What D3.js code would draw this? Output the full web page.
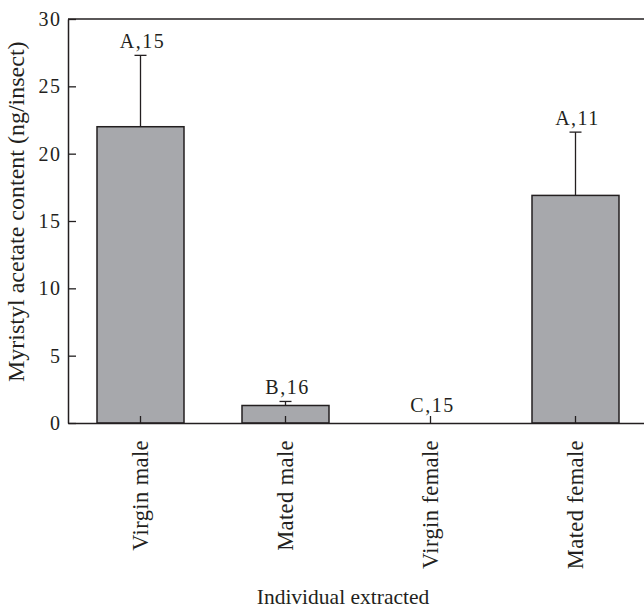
<!DOCTYPE html>
<html>
<head>
<meta charset="utf-8">
<script src="https://cdn.jsdelivr.net/npm/d3@7"></script>
<style>
	body { margin: 0; background: #fff; }
	text { font-family: "Liberation Serif", serif; fill: #231f20; }
</style>
</head>
<body>
<div id="chart"></div>
<script>
var groups = ['Virgin male', 'Mated male', 'Virgin female', 'Mated female'];
var means = [22.0, 1.3, 0, 16.9];
var errors = [5.3, 0.3, 0, 4.7];
var letters = ['A,15', 'B,16', 'C,15', 'A,11'];
var yTicks = [0, 5, 10, 15, 20, 25, 30];

var width = 644, height = 609;
var margin = {top: 19, left: 68, bottom: 186};

var svg = d3.select('#chart').append('svg')
	.attr('width', width)
	.attr('height', height);

var x = d3.scaleBand()
	.domain(groups)
	.range([margin.left, 648])
	.paddingInner(0.4)
	.paddingOuter(0.2);

var y = d3.scaleLinear()
	.domain([0, 30])
	.range([height - margin.bottom, margin.top]);

var ink = '#231f20';

// frame top line
svg.append('line')
	.attr('x1', margin.left).attr('x2', 648)
	.attr('y1', y(30)).attr('y2', y(30))
	.attr('stroke', ink).attr('stroke-width', 1.5);

var bars = svg.selectAll('.bar')
	.data(groups)
	.enter()
	.append('g')
	.attr('class', 'bar');

bars.append('rect')
	.attr('x', function(d) { return x(d) })
	.attr('width', x.bandwidth())
	.attr('y', function(d, i) { return y(means[i]) })
	.attr('height', function(d, i) { return y(0) - y(means[i]) })
	.attr('fill', '#a7a8ac')
	.attr('stroke', ink)
	.attr('stroke-width', 1.5)
	.style('display', function(d, i) { return means[i] > 0 ? null : 'none' });

// upper error bars
bars.filter(function(d, i) { return errors[i] > 0 })
	.each(function(d) {
		var i = groups.indexOf(d);
		var cx = x(d) + x.bandwidth() / 2;
		var g = d3.select(this);
		g.append('line')
			.attr('x1', cx).attr('x2', cx)
			.attr('y1', y(means[i])).attr('y2', y(means[i] + errors[i]))
			.attr('stroke', ink).attr('stroke-width', 1.3);
		g.append('line')
			.attr('x1', cx - 6).attr('x2', cx + 6)
			.attr('y1', y(means[i] + errors[i])).attr('y2', y(means[i] + errors[i]))
			.attr('stroke', ink).attr('stroke-width', 1.3);
	});

bars.append('text')
	.attr('x', function(d) { return x(d) + x.bandwidth() / 2 + 2 })
	.attr('y', function(d, i) { return y(means[i] + errors[i]) - (errors[i] > 0 ? 7 : 11) })
	.attr('text-anchor', 'middle')
	.style('font-size', '20px')
	.style('letter-spacing', '1.5px')
	.text(function(d, i) { return letters[i] });

// y axis, ticks inward
var yAxis = svg.append('g')
	.attr('transform', 'translate(' + margin.left + ',0)')
	.call(d3.axisRight(y).tickValues(yTicks).tickSize(8).tickSizeOuter(0).tickFormat(d3.format('d')));
yAxis.select('.domain').attr('stroke', ink).attr('stroke-width', 1.5);
yAxis.selectAll('.tick line').attr('stroke', ink).attr('stroke-width', 1.3);
yAxis.selectAll('.tick text')
	.attr('x', -6.5)
	.attr('text-anchor', 'end')
	.style('font-family', '"Liberation Serif", serif')
	.style('font-size', '20px')
	.style('letter-spacing', '1.5px')
	.attr('fill', ink);

// x axis, ticks inward
var xAxis = svg.append('g')
	.attr('transform', 'translate(0,' + y(0) + ')')
	.call(d3.axisTop(x).tickSize(7).tickSizeOuter(0));
xAxis.select('.domain').attr('stroke', ink).attr('stroke-width', 1.5);
xAxis.selectAll('.tick line').attr('stroke', ink).attr('stroke-width', 1.3);
xAxis.selectAll('.tick text')
	.attr('transform', 'rotate(-90)')
	.attr('x', -17)
	.attr('y', 7)
	.attr('dy', 0)
	.attr('text-anchor', 'end')
	.style('font-family', '"Liberation Serif", serif')
	.style('font-size', '22.5px')
	.style('letter-spacing', '0.4px')
	.attr('fill', ink);

svg.append('text')
	.attr('transform', 'translate(24.3,211.7) rotate(-90)')
	.attr('text-anchor', 'middle')
	.style('font-size', '24px')
	.text('Myristyl acetate content (ng/insect)');

svg.append('text')
	.attr('x', 343)
	.attr('y', 603.5)
	.attr('text-anchor', 'middle')
	.style('font-size', '21.5px')
	.text('Individual extracted');
</script>
</body>
</html>
